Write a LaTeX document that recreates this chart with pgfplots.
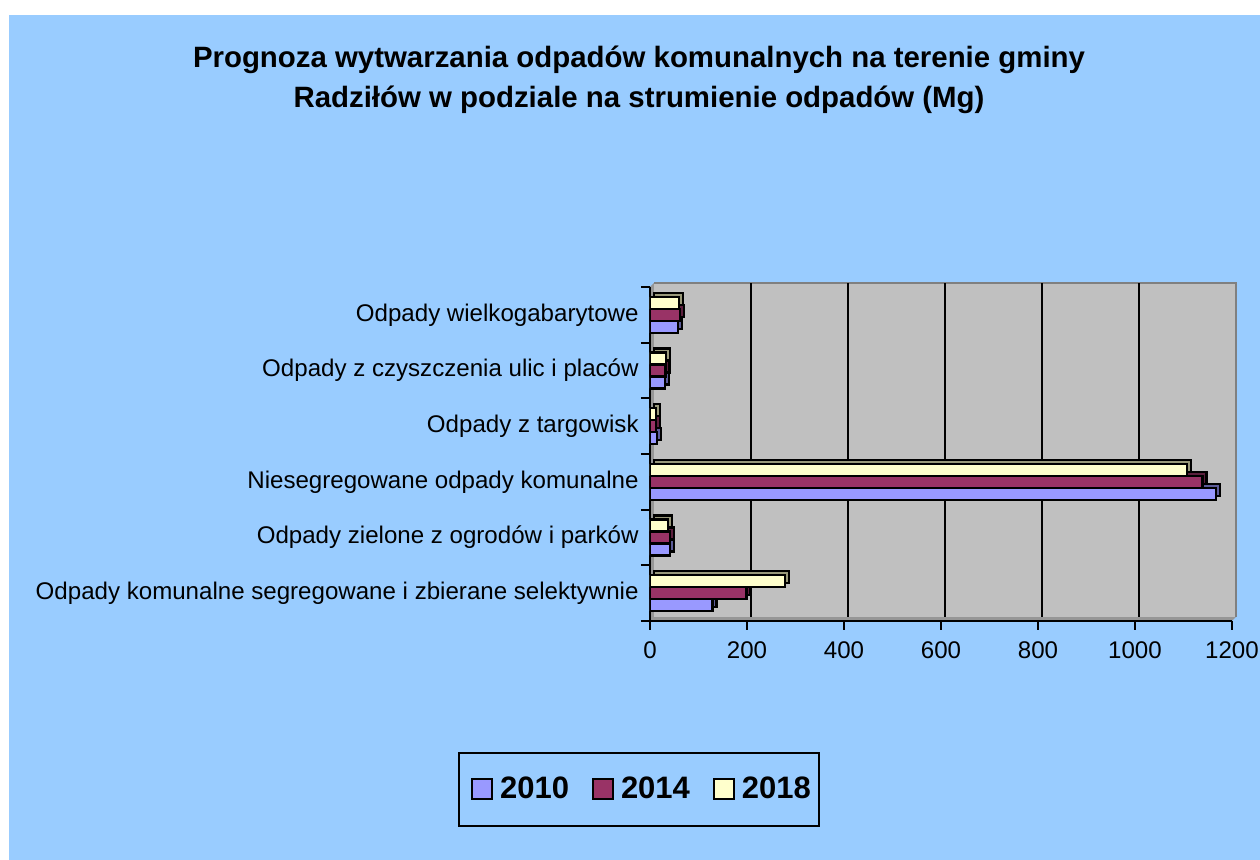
\documentclass[border=0pt]{standalone}
\usepackage{fontspec}
\setmainfont{Liberation Sans}
\usepackage{pgfplots}
\pgfplotsset{compat=1.18}
\definecolor{bgblue}{HTML}{99CCFF}
\definecolor{wall}{HTML}{C0C0C0}
\definecolor{walldark}{HTML}{808080}
\definecolor{sidegray}{HTML}{969696}
\definecolor{cA}{HTML}{9999FF}
\definecolor{cB}{HTML}{993366}
\definecolor{cC}{HTML}{FFFFCC}
\pgfplotsset{
  shadowbar/.style={fill=#1, draw=black, line width=1.2pt, shift={(2pt,2pt)}, forget plot},
  frontbar/.style={fill=#1, draw=black, line width=1.2pt,
    legend image code/.code={\path[draw=none, fill=none] (0pt,-5pt) rectangle (14.5pt,5pt);
      \draw[fill=#1, draw=black, line width=1pt] (4.5pt,-5pt) rectangle (14.5pt,5pt);}},
}
\begin{document}
\begin{tikzpicture}
\fill[white] (0,0) rectangle (630pt,430pt);
\fill[bgblue] (4.5pt,0) rectangle (630pt,422.5pt);
% chart walls (3-D frame of the plot area)
\fill[sidegray] (325pt,119.5pt) -- (325pt,286.5pt) -- (327pt,288.5pt) -- (618pt,288.5pt) -- (618pt,121.5pt) -- (616pt,119.5pt) -- cycle;
\fill[wall] (327pt,121.5pt) rectangle (618pt,288.5pt);
\draw[walldark, line width=1.2pt] (327pt,288.5pt) -- (618pt,288.5pt) -- (618pt,121.5pt);
\node[align=center, font=\fontsize{14.7}{20}\selectfont\bfseries] at (319.5pt,390pt)
  {Prognoza wytwarzania odpadów komunalnych na terenie gminy\\Radziłów w podziale na strumienie odpadów (Mg)};
\begin{axis}[
  at={(325pt,119.5pt)}, anchor=south west,
  scale only axis, width=291pt, height=167pt,
  xbar, bar width=6pt,
  xmin=0, xmax=1200, ymin=-0.5, ymax=5.5,
  axis x line*=bottom, axis y line*=left,
  axis line style={black, line width=1.3pt},
  xtick={0,200,...,1200},
  extra x ticks={200,400,...,1000},
  extra x tick labels={},
  extra x tick style={grid=major},
  major grid style={black, line width=1.2pt, shift={(2pt,2pt)}},
  ytick={-0.5,0.5,...,5.5},
  yticklabels={Odpady komunalne segregowane i zbierane selektywnie,
    Odpady zielone z ogrodów i parków,
    Niesegregowane odpady komunalne,
    Odpady z targowisk,
    Odpady z czyszczenia ulic i placów,
    Odpady wielkogabarytowe},
  y tick label as interval,
  tick align=outside,
  major tick length=4.5pt,
  tick style={black, line width=1pt},
  ticklabel style={font=\fontsize{12.05}{14}\selectfont},
  /pgf/number format/assume math mode=true,
  xticklabel style={/pgf/number format/1000 sep={}, yshift=-2.2pt},
  yticklabel style={inner sep=1pt},
  legend columns=3,
  legend style={at={(-0.0189,-0.5045)}, anchor=center, draw=black, line width=1pt, fill=none,
    font=\fontsize{15.5}{18}\selectfont\bfseries, inner xsep=2pt, inner ysep=10pt,
    /tikz/every even column/.append style={column sep=5.5pt},
    /tikz/every odd column/.append style={column sep=1.5pt}},
]
% depth faces
\addplot[shadowbar=cA!60!black, bar shift=-6pt] coordinates {(129,0) (41,1) (1167,2) (14,3) (31,4) (58,5)};
\addplot[shadowbar=cB!60!black, bar shift=0pt] coordinates {(199,0) (41,1) (1139,2) (12,3) (32,4) (62,5)};
\addplot[shadowbar=cC!60!black, bar shift=6pt] coordinates {(278,0) (37,1) (1107,2) (12,3) (33,4) (60,5)};
% front faces
\addplot[frontbar=cA, bar shift=-6pt] coordinates {(129,0) (41,1) (1167,2) (14,3) (31,4) (58,5)};
\addplot[frontbar=cB, bar shift=0pt] coordinates {(199,0) (41,1) (1139,2) (12,3) (32,4) (62,5)};
\addplot[frontbar=cC, bar shift=6pt] coordinates {(278,0) (37,1) (1107,2) (12,3) (33,4) (60,5)};
\legend{2010,2014,2018}
\end{axis}
\pgfresetboundingbox
\path[use as bounding box] (0,0) rectangle (630pt,430pt);
\end{tikzpicture}
\end{document}
